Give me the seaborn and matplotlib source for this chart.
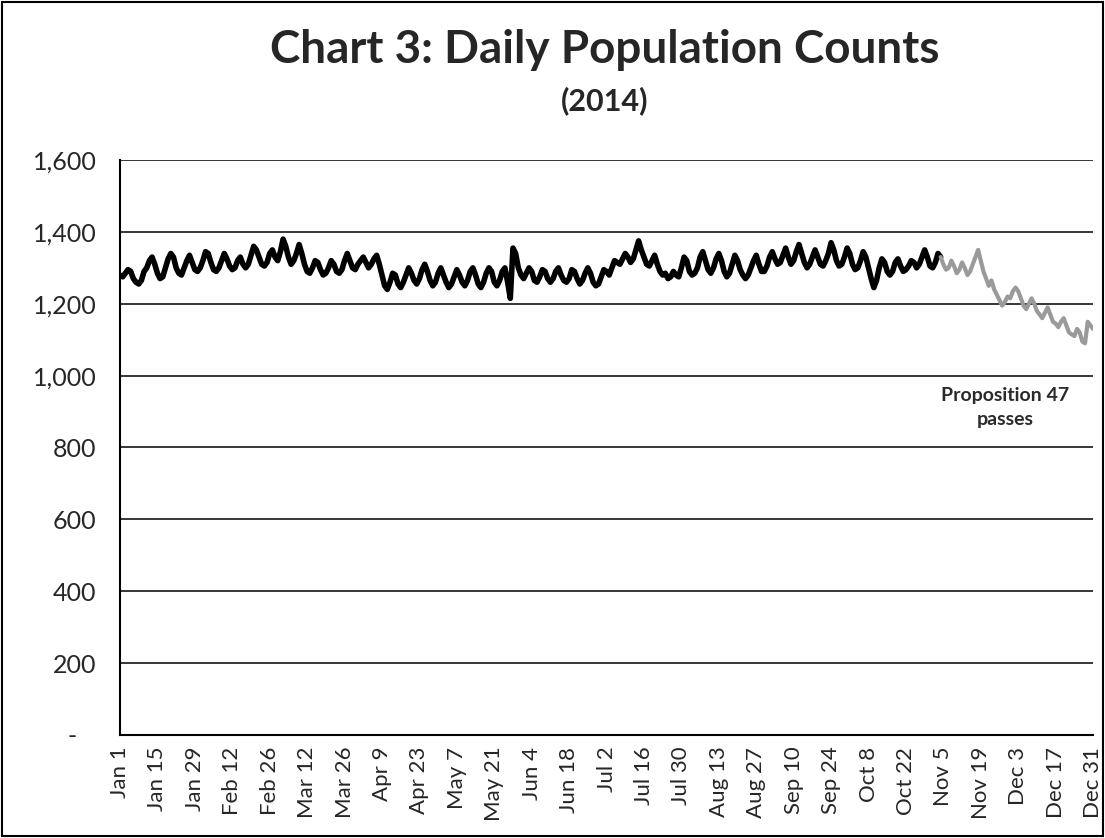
import numpy as np
import pandas as pd
import matplotlib
matplotlib.use("Agg")
import matplotlib.pyplot as plt
import seaborn as sns
from matplotlib.patches import Rectangle

sns.set_style("white")
plt.rcParams['font.family'] = ['Lato', 'DejaVu Sans']

# daily counts, one list per month
jan = [1280, 1275, 1285, 1295, 1290, 1270, 1260, 1255, 1265, 1290, 1300, 1320, 1330, 1310,
       1285, 1270, 1275, 1300, 1325, 1340, 1330, 1300, 1285, 1280, 1300, 1320, 1335, 1315,
       1295, 1290, 1300]
feb = [1320, 1345, 1340, 1315, 1295, 1290, 1300, 1320, 1340, 1325, 1305, 1295,
       1300, 1320, 1330, 1310, 1300, 1310, 1335, 1360, 1350, 1330, 1310, 1305, 1315, 1340,
       1350, 1330]
mar = [1320, 1345, 1380, 1360, 1330, 1310, 1320, 1340, 1365, 1340, 1310, 1290,
       1285, 1300, 1320, 1315, 1295, 1280, 1285, 1300, 1320, 1310, 1290, 1285, 1295, 1320,
       1340, 1320, 1300, 1295, 1310]
apr = [1320, 1330, 1315, 1300, 1310, 1325, 1335, 1310, 1280, 1250, 1240, 1260, 1285, 1280,
       1255, 1245, 1260, 1280, 1300, 1285, 1265, 1255, 1270, 1295, 1310, 1290, 1265, 1250,
       1260, 1285]
may = [1300, 1280, 1260, 1245, 1255, 1275, 1295, 1280, 1260, 1250, 1265, 1290, 1300, 1280,
       1255, 1245, 1260, 1285, 1300, 1290, 1260, 1250, 1265, 1290, 1300, 1260, 1215, 1355,
       1340, 1300, 1280]
jun = [1270, 1285, 1300, 1290, 1265, 1260, 1275, 1295, 1290, 1270, 1260, 1270, 1290, 1300,
       1280, 1265, 1260, 1270, 1295, 1290, 1270, 1255, 1265, 1285, 1300, 1285, 1260, 1250,
       1255, 1275]
jul = [1295, 1290, 1280, 1300, 1320, 1315, 1310, 1325, 1340, 1330, 1315, 1325, 1350, 1375,
       1350, 1330, 1310, 1305, 1320, 1335, 1310, 1290, 1280, 1285, 1270, 1275, 1290, 1280,
       1275, 1300, 1330]
aug = [1320, 1290, 1280, 1285, 1300, 1330, 1345, 1320, 1295, 1285, 1300, 1325, 1340, 1320,
       1290, 1275, 1285, 1310, 1335, 1320, 1295, 1280, 1270, 1280, 1300, 1320, 1335, 1310,
       1290, 1290, 1305]
sep = [1330, 1345, 1325, 1310, 1315, 1335, 1355, 1330, 1310, 1320, 1345, 1365, 1340, 1315,
       1300, 1310, 1330, 1350, 1330, 1310, 1305, 1320, 1340, 1370, 1350, 1320, 1305, 1310,
       1330, 1355]
oct_ = [1340, 1310, 1295, 1300, 1320, 1345, 1330, 1300, 1270, 1245, 1265, 1300, 1325, 1315,
        1290, 1280, 1290, 1315, 1325, 1305, 1290, 1295, 1305, 1320, 1315, 1300, 1310, 1330,
        1350, 1330, 1305]
nov = [1300, 1315, 1340, 1330, 1310, 1295, 1300, 1320, 1305, 1285, 1295, 1315, 1300, 1280,
       1290, 1310, 1330, 1350, 1320, 1290, 1270, 1250, 1265, 1240, 1225, 1210, 1195, 1205,
       1220, 1215]
dec = [1235, 1245, 1235, 1215, 1195, 1185, 1200, 1215, 1200, 1180, 1170, 1160, 1175, 1190,
       1170, 1150, 1145, 1135, 1150, 1160, 1140, 1120, 1115, 1110, 1130, 1120, 1095, 1090,
       1150, 1140, 1130]

counts = jan + feb + mar + apr + may + jun + jul + aug + sep + oct_ + nov + dec
dates = pd.date_range("2014-01-01", "2014-12-31", freq="D")
prop47_date = pd.Timestamp("2014-11-04")

df = pd.DataFrame({"day": np.arange(len(dates)), "date": dates, "count": counts})
cut = int(df.loc[df["date"] == prop47_date, "day"].iloc[0])
before = df[df["day"] <= cut]
after = df[df["day"] >= cut]

fig = plt.figure(figsize=(11.05, 8.38), dpi=100)
ax = fig.add_axes([0.1086, 0.123, 0.8806, 0.686])

sns.lineplot(data=before, x="day", y="count", color="black", linewidth=4.0, ax=ax)
sns.lineplot(data=after, x="day", y="count", color="#9a9a9a", linewidth=3.0, ax=ax)

ax.set_xlim(0, len(dates) - 1)
ax.set_ylim(0, 1600)
yticks = np.arange(0, 1601, 200)
ax.set_yticks(yticks)
ax.set_yticklabels(["-   "] + [f"{v:,}" for v in yticks[1:]])
ax.yaxis.grid(True, color="black", linewidth=1.1)

# labels every two weeks, tick marks every week
major = df["day"].values[::14]
ax.set_xticks(major)
ax.set_xticklabels([f"{d.strftime('%b')} {d.day}" for d in df["date"].iloc[::14]], rotation=90)
ax.set_xticks(df["day"].values[::7], minor=True)
ax.tick_params(axis="x", which="both", direction="inout", length=10, width=1.2, labelsize=16)
ax.tick_params(axis="y", direction="out", length=9, width=1.2, labelsize=18, pad=8)

ax.set_xlabel("")
ax.set_ylabel("")
for s in ["top", "right"]:
    ax.spines[s].set_visible(False)
for s in ["left", "bottom"]:
    ax.spines[s].set_color("black")
    ax.spines[s].set_linewidth(1.5)

ax.text(331, 912, "Proposition 47\npasses", ha="center", va="center",
        fontsize=14, fontweight="bold", color="#2a2a2a", linespacing=1.5)

fig.text(0.547, 0.94, "Chart 3: Daily Population Counts", ha="center", va="center",
         fontsize=33, fontweight="bold")
fig.text(0.547, 0.88, "(2014)", ha="center", va="center", fontsize=22, fontweight="bold")

fig.add_artist(Rectangle((0.002, 0.002), 0.996, 0.996, transform=fig.transFigure,
                         fill=False, edgecolor="black", linewidth=1.5))

fig.savefig("out.png", dpi=100)
